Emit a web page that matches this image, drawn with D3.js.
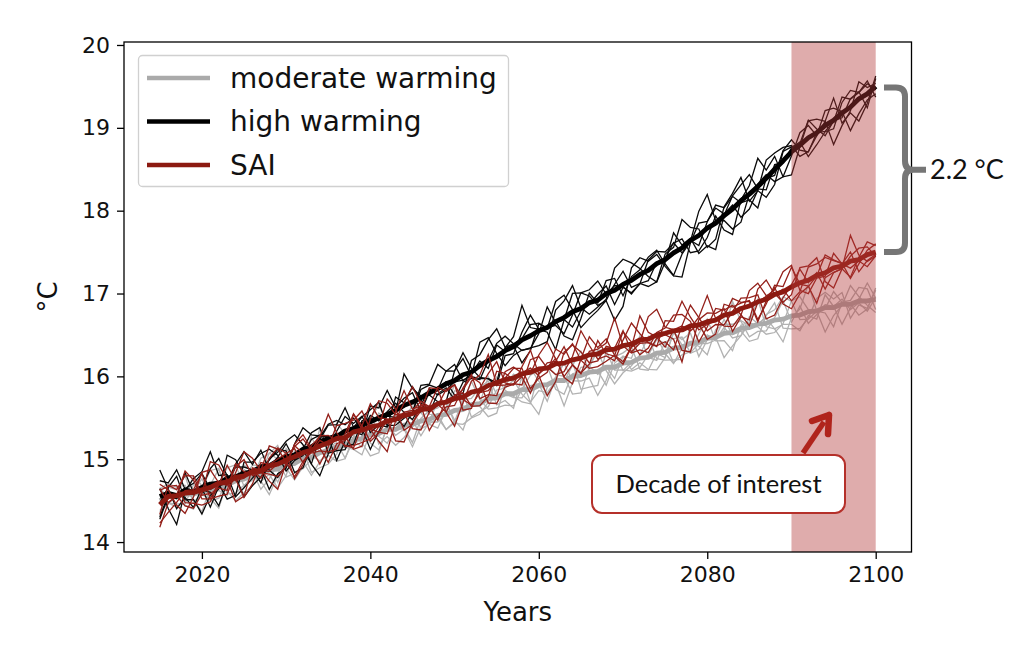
<!DOCTYPE html>
<html><head><meta charset="utf-8">
<script src="https://cdn.jsdelivr.net/npm/d3@7"></script>
<style>
html,body{margin:0;padding:0;background:#fff;}
svg{display:block;}
</style></head>
<body>
<svg id="chart" width="1024" height="647"></svg>
<script>
// ---------- DATA ----------
const years = d3.range(2015, 2101); // 2015..2100
const seriesNames = ["moderate warming", "high warming", "SAI"];
const xTicks = [2020, 2040, 2060, 2080, 2100];
const yTicks = [14, 15, 16, 17, 18, 19, 20];
const decade = [2090, 2100];
const bracketLabel = "2.2 °C";
const boxLabel = "Decade of interest";

// ensemble means (°C), one value per year
const highMean = [14.55,14.59,14.56,14.63,14.60, 14.66,14.70,14.71,14.77,14.79, 14.83,14.85,14.91,14.92,14.98,
 15.03,15.05,15.12,15.15,15.21, 15.25,15.27,15.34,15.37,15.42, 15.45,15.50,15.54,15.59,15.65,
 15.69,15.74,15.80,15.85,15.91, 15.95,16.02,16.05,16.13,16.19, 16.24,16.31,16.36,16.44,16.49,
 16.55,16.59,16.66,16.71,16.78, 16.82,16.89,16.92,17.00,17.04, 17.11,17.16,17.23,17.28,17.36,
 17.41,17.49,17.55,17.64,17.70, 17.79,17.85,17.94,18.02,18.12, 18.20,18.29,18.39,18.50,18.60,
 18.71,18.79,18.88,18.94,19.03, 19.09,19.18,19.25,19.35,19.41, 19.50];
const saiMean = [14.45,14.55,14.56,14.59,14.60, 14.63,14.66,14.71,14.72,14.78, 14.80,14.85,14.86,14.92,14.94,
 14.99,15.03,15.08,15.11,15.16, 15.20,15.25,15.26,15.33,15.35, 15.39,15.41,15.46,15.48,15.53,
 15.55,15.60,15.61,15.67,15.69, 15.73,15.75,15.81,15.83,15.89, 15.92,15.96,15.98,16.03,16.05,
 16.09,16.10,16.15,16.16,16.20, 16.22,16.26,16.27,16.32,16.33, 16.37,16.39,16.44,16.45,16.50,
 16.52,16.55,16.56,16.61,16.62, 16.66,16.68,16.74,16.76,16.82, 16.85,16.90,16.93,16.99,17.02,
 17.08,17.13,17.16,17.22,17.25, 17.31,17.33,17.39,17.41,17.47, 17.50];
const moderateMean = [14.50,14.55,14.55,14.58,14.58, 14.61,14.63,14.67,14.69,14.74, 14.76,14.80,14.81,14.87,14.88,
 14.93,14.95,15.01,15.02,15.08, 15.10,15.15,15.17,15.23,15.25, 15.30,15.31,15.36,15.36,15.41,
 15.42,15.46,15.48,15.53,15.54, 15.59,15.60,15.66,15.67,15.73, 15.74,15.79,15.79,15.84,15.84,
 15.89,15.90,15.95,15.95,16.00, 16.01,16.05,16.06,16.11,16.11, 16.16,16.17,16.22,16.23,16.28,
 16.29,16.34,16.35,16.40,16.41, 16.46,16.47,16.52,16.53,16.58, 16.59,16.63,16.64,16.68,16.69,
 16.73,16.74,16.78,16.79,16.83, 16.83,16.87,16.87,16.91,16.91, 16.93];

// slow ensemble-member anomalies, in units of 0.01 °C
const highSlow = [
 [10,18,25,12,-5,-12,-20,-8,6,15,28,20,8,-4,-16,-22,-10,2,14,9,-3,-15,-25,-18,-6,10,22,30,16,4,-8,-20,-12,3,18,26,12,-2,-14,-24,-30,-16,-4,8,20,14,2,-10,-18,-6,10,24,32,18,6,-8,-22,-28,-12,4,16,8,-6,-18,-10,6,20,28,14,-2,-14,-26,-16,-4,12,22,10,-6,-20,-12,2,18,26,10,-8,-4],
 [-18,-8,6,20,12,-4,-16,-24,-10,8,18,6,-8,-20,-30,-14,4,16,24,12,0,-12,-22,-8,10,20,14,2,-14,-26,-18,-2,12,24,30,14,-4,-16,-8,6,18,8,-10,-24,-16,-2,14,26,18,4,-12,-22,-14,4,16,6,-10,-20,-28,-12,6,20,28,12,-6,-18,-8,8,22,14,-2,-16,-26,-12,6,18,26,12,-4,-18,-10,8,20,6,-12,2],
 [4,-10,-20,-6,10,22,30,16,2,-12,-22,-12,4,18,10,-6,-18,-26,-10,8,20,28,14,-4,-16,-24,-12,6,16,24,8,-8,-20,-14,2,16,8,-10,-22,-30,-16,2,14,26,18,4,-8,-20,-10,10,24,16,0,-14,-26,-18,-4,12,22,8,-6,-20,-28,-14,2,14,24,12,-4,-14,-24,-10,8,20,30,16,-2,-14,-8,6,18,8,-10,-22,-14,-6],
 [-25,-14,-4,8,18,10,-2,-14,-22,-8,6,16,26,14,2,-10,-20,-12,4,18,12,-2,-16,-26,-12,4,14,6,-8,-18,-26,-14,2,16,10,-4,-18,-8,8,22,30,16,2,-12,-22,-14,0,12,24,16,2,-10,-4,10,22,30,14,-4,-18,-10,4,16,8,-6,-20,-30,-14,2,16,26,10,-4,-16,-8,6,18,8,-12,-24,-14,0,14,26,16,2,-8],
 [20,8,-6,-18,-10,4,16,24,10,-4,-16,-24,-12,2,14,6,-8,-20,-10,6,18,30,16,2,-12,-6,10,20,8,-10,-22,-30,-16,0,12,4,-10,-4,12,24,14,-2,-16,-26,-12,4,18,10,-6,-18,-8,8,20,12,-4,-16,-24,-10,6,18,26,12,-2,-14,-22,-10,4,-6,-18,-8,10,24,14,-2,-14,-6,8,20,10,-6,-18,-10,6,16,4,-2],
 [-8,4,14,2,-12,-24,-14,2,18,28,14,0,-12,-4,12,22,8,-8,-18,-28,-14,4,18,10,-4,-16,-8,10,20,6,-6,-16,-24,-10,6,-4,-16,-26,-12,4,16,26,12,-4,4,18,8,-6,-20,-28,-14,0,14,24,12,-4,-10,4,18,10,-8,-20,-10,6,20,30,16,-2,-14,-24,-12,4,-6,-18,-8,10,22,12,-4,8,20,6,-10,-22,-12,6]
];
const saiSlow = [
 [14,4,-8,-18,-10,6,18,24,10,-6,-18,-24,-10,4,16,8,-6,-16,-8,8,20,12,-4,-16,-22,-8,6,18,10,-6,-16,-8,8,20,26,12,-2,-14,-20,-6,8,18,10,-6,-18,-10,6,16,22,8,-6,-18,-26,-12,4,14,6,-8,-16,-4,10,22,14,-2,-14,-8,6,18,8,-8,-20,-12,4,16,24,12,-4,-16,-8,6,16,6,-8,-18,-6,4],
 [-20,-10,4,16,8,-6,-16,-6,10,22,14,-2,-14,-22,-8,8,20,12,-4,-16,-8,6,18,26,12,-4,-16,-24,-10,6,16,8,-6,-16,-6,10,20,12,-2,-14,-24,-12,4,14,22,10,-4,-16,-8,8,18,10,-4,-16,-6,10,22,14,-2,-14,-22,-10,6,16,8,-8,-18,-8,8,20,12,-4,-16,-24,-12,4,14,6,-8,-16,-4,10,20,10,-4,-12],
 [6,18,10,-4,-16,-24,-10,6,16,8,-6,-18,-10,6,20,26,12,-4,-14,-6,8,-4,-16,-8,8,20,12,-4,-18,-26,-12,4,16,10,-6,-18,-8,8,18,26,12,-2,-14,-6,8,20,12,-4,-16,-24,-10,6,18,10,-4,-14,-6,8,20,28,14,-2,-16,-24,-10,4,14,6,-8,-18,-6,8,20,12,-4,-16,-8,6,16,26,12,-4,-18,-8,6,14],
 [-10,6,16,24,12,-2,-14,-8,6,18,8,-6,-18,-26,-12,4,14,8,-6,-16,-24,-10,4,16,8,-6,-14,-4,12,22,14,0,-14,-22,-10,4,16,6,-8,-18,-6,8,20,12,-4,-18,-26,-12,4,16,8,-6,-16,-8,6,18,10,-4,-16,-8,8,20,26,12,-2,-14,-4,12,22,10,-4,-16,-8,6,-6,-18,-26,-10,4,12,22,10,-4,-16,-6,8],
 [18,8,-4,-14,-6,10,20,12,-4,-16,-24,-12,2,14,22,10,-6,-18,-10,4,14,6,-8,-18,-8,8,18,26,12,-4,-14,-22,-10,6,16,8,-6,-16,-6,10,22,14,0,-12,-22,-8,8,18,10,-6,-16,-8,6,16,24,10,-6,-18,-10,4,-6,-16,-24,-10,6,16,8,-6,-14,-4,12,22,14,-2,-12,-4,10,20,12,-6,-18,-10,6,16,8,-4],
 [-14,-24,-12,4,14,6,-8,-18,-8,8,20,12,-2,-12,-4,12,22,14,0,-14,-22,-12,4,14,6,-8,-16,-6,10,20,28,14,-2,-12,-4,10,-2,-14,-24,-10,6,16,8,-6,4,16,24,12,-4,-14,-22,-10,6,-4,-16,-8,8,20,12,-2,-14,-6,10,-2,-14,-22,-8,8,18,10,-6,-16,-4,10,20,12,-4,-14,-24,-10,4,-8,-18,-6,10,20]
];
const moderateSlow = [
 [8,-6,-16,-8,6,16,22,10,-4,-14,-20,-8,6,14,6,-8,-18,-6,8,18,10,-4,-14,-22,-10,4,14,20,8,-6,-16,-8,6,16,8,-6,-18,-24,-10,4,14,6,-8,-16,-6,8,18,10,-4,-14,-6,8,16,22,10,-4,-14,-6,8,16,8,-6,-16,-22,-8,6,14,4,-8,-16,-6,8,18,10,-4,-14,-20,-8,6,14,20,8,-6,-14,-4,6],
 [-14,-4,8,16,6,-6,-16,-22,-10,4,14,22,10,-4,-14,-6,8,16,6,-8,-18,-24,-12,2,12,6,-8,-16,-6,8,18,10,-4,-14,-20,-8,6,16,22,10,-4,-14,-6,8,18,8,-6,-16,-22,-10,4,14,6,-8,-16,-6,8,18,10,-4,12,20,8,-6,-16,-8,6,16,24,12,-2,-14,-6,8,16,6,-6,-18,-8,6,-6,-16,-8,6,14,4],
 [4,14,20,8,-6,-16,-8,6,14,22,10,-4,-16,-24,-10,4,12,4,-8,-18,-8,6,16,8,-6,-16,-22,-8,6,16,6,-8,-18,-6,8,18,10,-4,-14,-6,8,16,6,-8,-18,-24,-10,4,14,6,-8,-16,-24,-10,6,14,6,-8,-16,-6,8,18,10,-4,-14,-6,8,16,6,-8,-18,-8,6,16,24,10,-4,-14,-6,8,16,6,-8,-18,-8,4],
 [-6,-16,-8,6,16,8,-6,-14,-4,8,18,10,-4,-14,-22,-10,4,14,22,10,-4,-14,-6,8,16,6,-6,-16,-24,-10,4,12,4,-8,-16,-6,8,18,10,-6,-16,-24,-12,2,12,20,10,-4,-12,-4,10,20,12,-2,-14,-22,-10,4,14,6,-6,-16,-8,8,18,10,-4,-16,-24,-10,4,14,6,-8,-18,-8,6,14,4,-8,-16,-6,8,18,10,-4],
 [12,4,-8,-18,-10,4,14,6,-6,-16,-8,6,16,24,12,-2,-12,-4,8,16,6,-8,-18,-8,6,14,22,10,-4,-14,-24,-12,2,12,4,-8,-16,-6,10,20,12,-2,-14,-6,8,-4,-16,-8,6,16,22,10,-4,-14,-6,8,-4,-16,-24,-10,4,14,6,-8,-16,-6,8,20,12,-4,10,-4,-16,-8,6,18,10,-4,-14,-22,-10,6,16,8,-6,-12],
 [-10,-20,-8,6,14,4,-8,-16,-4,10,20,8,-6,-16,-8,6,16,8,-6,-18,-26,-12,4,14,6,-6,-16,-6,8,18,10,-4,-14,-4,10,20,12,-2,-12,-20,-8,6,16,8,-6,-16,-6,8,20,12,-4,-14,-6,8,-2,-14,-22,-8,6,14,6,-8,-18,-8,6,16,8,-6,-16,-6,10,20,8,-6,-14,-4,-14,-22,-8,6,14,4,-8,-16,-4,8]
];
// fast year-to-year anomalies, in units of 0.005 °C
const highFast = [
 [12,-8,20,-15,5,22,-10,3,-25,14,8,-18,27,-5,-12,16,2,-20,9,24,-14,6,-3,18,-22,11,-7,25,-9,4,15,-26,8,-2,19,-13,21,-6,-17,10,3,28,-11,-4,13,-21,7,17,-8,-1,23,-16,5,-24,12,9,-14,20,-3,6,-19,15,-7,26,-10,1,18,-23,8,-5,11,-12,22,-17,4,14,-2,-20,16,7,-9,19,-15,3,25,-6],
 [-20,15,-5,9,-28,3,18,-12,7,21,-9,-3,14,-19,25,-7,10,4,-16,-2,19,-24,12,6,-11,-18,23,-4,8,16,-13,2,-21,17,-6,27,-15,9,11,-25,5,-10,20,-14,-1,24,-19,3,13,-8,-17,7,26,-11,-5,18,-22,4,15,-9,12,-20,6,-3,22,-13,-8,19,-1,24,-16,10,-4,-23,14,5,-18,21,-7,8,17,-11,-2,13,-25,9],
 [5,-14,-22,16,10,-6,24,-19,2,-11,21,13,-8,-24,4,19,-15,-9,26,-3,8,-17,20,-1,14,-26,5,12,-20,23,-7,-12,17,3,-23,8,15,-10,-4,22,-18,11,-6,25,-13,-2,16,-21,9,19,-5,-15,10,24,-8,-19,13,2,-24,17,6,-9,-21,12,20,-14,3,-6,23,-16,9,-1,18,-11,-24,12,7,-3,-15,21,-8,4,-19,16,-2,-12],
 [-11,23,8,-6,-18,14,-3,20,-9,-15,27,-4,-17,10,6,-22,18,-7,13,-12,-5,21,-14,2,24,-8,-19,11,15,-20,4,16,-3,-24,9,-11,-18,25,-6,12,20,-16,1,-8,18,-5,-23,10,-13,26,3,-7,14,-20,22,-1,-11,8,19,-14,-4,23,-16,7,-9,15,-21,11,5,-18,24,-10,-6,17,-13,2,22,-19,-5,10,-22,14,6,-9,12,-16],
 [18,-3,-12,25,-20,-8,11,6,-17,22,-13,19,2,-10,-23,12,-5,21,-18,7,14,-11,-25,9,3,20,-14,-6,17,-2,-22,10,24,-9,-15,5,-1,-20,16,13,-8,-24,9,21,-4,-12,25,-16,2,-6,15,-19,-3,8,-14,23,-7,-17,11,4,-23,6,19,-12,1,-5,24,-9,-20,14,-2,8,-18,25,-7,-15,10,3,-11,19,-24,6,-3,17,-8,5],
 [-6,9,26,-21,3,-16,7,-24,17,-1,-19,10,-12,23,-7,-14,24,11,-3,-18,6,15,-9,-20,19,-1,12,-23,8,-11,25,-5,-17,14,2,-22,6,18,-26,-3,13,-9,-19,5,22,-15,-6,20,-10,-17,9,24,-12,-3,17,-21,4,-11,-6,23,16,-8,-2,-25,13,19,-12,6,-15,-8,21,-14,11,-4,-19,-1,16,8,-23,-9,12,-20,24,-2,-14,7]
];
const saiFast = [
 [9,-21,14,3,-10,-25,18,7,-4,20,-16,1,22,-13,-8,15,-24,10,5,-2,26,-12,-18,8,13,-6,-21,19,2,-15,11,23,-9,-4,-20,16,6,-13,24,-7,-2,-18,12,27,-11,4,-16,9,-22,18,1,-10,20,-6,-25,13,8,-15,3,21,-12,-4,16,10,-22,-7,14,-19,25,2,-9,18,-5,-13,7,22,-17,-1,11,-24,15,3,-10,20,-6,-13],
 [-15,6,-9,19,22,-13,-4,25,-18,-6,11,-23,5,16,-2,-14,8,26,-10,-20,3,17,-6,-15,21,9,-12,-24,14,5,-19,-1,18,-11,24,-8,-14,3,12,-21,7,20,-15,-9,2,-26,17,11,-4,-13,24,-11,-6,15,-18,1,22,-8,-12,9,19,-24,5,13,-7,-16,23,-3,10,-14,-5,21,-20,6,16,-9,-2,-18,24,-11,8,-16,13,-22,3,18],
 [22,-10,3,-17,14,8,-23,-5,19,-12,6,24,-16,-1,11,-20,13,-9,2,17,-25,4,9,-14,-7,23,-11,15,-19,-3,8,-16,20,12,-6,-24,10,1,-9,16,-21,5,23,-13,7,-4,-18,26,-2,-15,12,18,-22,4,-9,-3,20,-16,7,13,-18,9,-11,-20,24,3,-14,8,-6,17,-23,11,2,-16,21,-8,-12,19,-3,-19,5,25,-15,-7,10,-4],
 [-4,17,-19,-8,24,-12,5,15,-22,9,-6,-13,20,7,-25,2,16,-11,-17,12,23,-8,-3,20,-16,14,6,-21,-9,25,-12,4,-23,10,15,-18,-2,21,-14,7,-10,17,-5,-20,11,26,-9,-14,19,-1,-7,-21,14,22,-12,8,-24,5,16,-5,10,-15,24,-8,-17,11,3,-22,14,-4,18,-20,7,12,-11,-23,19,4,-8,15,-13,-5,21,-10,9,-18],
 [13,2,-17,-23,9,19,-6,-12,24,-15,-1,16,-21,12,4,-8,-19,22,-5,8,-13,-20,15,3,-24,10,18,-7,-16,21,-3,-10,13,-20,5,24,-12,-17,7,2,16,-22,-8,19,-14,10,3,-25,20,-6,-12,11,-2,-18,25,-13,6,17,-20,-9,4,14,-23,9,-2,21,-15,-10,18,-7,12,-3,-24,14,5,-17,10,-6,20,-13,-1,23,-9,-17,14,2],
 [-17,11,6,-4,-13,24,-20,16,-3,7,18,-9,-14,3,21,-16,-2,12,-22,15,-6,9,-19,24,-3,-12,8,17,-24,-1,14,-20,6,19,-10,-5,22,-16,1,-13,25,-3,-11,14,-19,8,20,-7,-24,11,2,-16,19,-4,13,-21,-8,23,-15,6,-10,17,-4,-13,22,-9,-20,15,1,-6,24,-15,-8,10,-21,17,-2,13,-18,4,-7,19,-12,5,22,-20]
];
const moderateFast = [
 [8,-15,11,-4,19,-20,3,14,-9,-17,21,-6,-12,16,2,-22,9,5,-14,18,-3,-19,12,23,-8,-1,15,-24,6,10,-16,20,-5,-11,17,-21,4,13,-7,-18,22,-2,9,-14,-20,15,6,-9,19,-12,-23,3,17,-6,10,-15,21,-1,-10,14,-5,-19,22,8,-13,2,-22,16,-4,11,19,-16,-7,24,-11,5,-3,-20,13,9,-14,16,-21,4,-8,12],
 [-12,20,-3,16,-22,7,12,-18,24,2,-9,-16,5,21,-13,10,-24,14,-1,-7,17,-11,-20,6,22,-15,3,-8,19,-23,11,-2,-17,25,4,-12,15,-20,-6,21,-9,13,-24,2,18,-5,-13,22,-16,8,19,-7,-21,12,-3,24,-14,6,-19,-2,15,-11,1,-23,18,9,-6,-16,20,-10,-22,13,4,-8,16,-19,23,-12,2,-5,20,-13,8,-22,17,-3],
 [16,-7,-21,9,4,-13,22,-19,10,-2,-24,13,18,-9,-5,23,-14,2,-20,11,6,21,-16,-4,14,-18,-9,20,-12,3,-6,-22,16,-1,-14,10,22,-25,8,-9,3,-17,20,-11,7,-21,12,-3,15,-20,10,24,-12,-16,5,-8,18,-22,2,19,-15,7,-9,21,-18,14,-2,11,-24,6,-1,-17,20,-5,9,23,-14,-10,6,-19,12,-4,17,-13,-2,21],
 [-20,4,14,-12,-16,18,-5,9,-21,24,1,-18,-7,20,-11,-14,19,-3,12,-23,9,-8,16,-17,-2,25,-20,8,13,-6,-18,14,-10,21,-4,-19,3,17,-11,-15,8,22,-6,-19,13,-2,24,-16,-8,17,-3,-14,21,-9,-20,16,4,-12,23,-18,7,10,-21,15,-6,-13,20,-17,9,-1,14,-24,11,-3,-16,20,-8,18,-14,3,-9,21,-6,-18,11,-15],
 [3,-24,17,12,-8,-2,-16,21,-13,5,15,-20,9,-6,24,-12,-19,6,20,-15,-11,2,-6,17,-21,12,19,-14,-3,22,-10,8,-23,13,18,-9,-14,5,-20,11,-16,6,18,-24,-4,12,-10,19,-13,-3,22,-11,7,-20,14,-4,-17,9,20,-13,-7,18,-14,5,11,-22,15,-8,-11,23,-18,4,16,-12,-20,9,13,-7,22,-15,6,-11,14,-20,3,-6],
 [-8,14,-13,-19,23,10,-11,-6,17,-20,7,-3,-22,13,19,-5,-10,21,-17,-4,12,-18,8,-22,16,-7,-14,10,21,-9,18,-13,2,-20,-8,23,-12,-3,16,-5,-21,10,15,-7,-16,20,-9,-19,6,14,-18,-2,-24,19,-11,7,15,-18,-5,12,24,-13,10,-16,-3,20,-12,4,-19,16,-10,22,-14,-7,18,-4,-21,15,-9,19,-20,8,4,13,-15,-10]
];

// ---------- LAYOUT ----------
const svg = d3.select("#chart");
const W = 1024, H = 647;
const m = {left: 124, right: 1024 - 911.5, top: 42, bottom: 647 - 552};
const x = d3.scaleLinear().domain([2010.75, 2104.25]).range([m.left, W - m.right]);
const y = d3.scaleLinear().domain([13.88, 20.036]).range([H - m.bottom, m.top]);

const colors = {"moderate warming": "#aaaaaa", "high warming": "#000000", "SAI": "#8c1a11"};
const thinColors = {"moderate warming": "#b2b2b2", "high warming": "#0a0a0a", "SAI": "#94201a"};

const scenarios = [
  {name: "moderate warming", mean: moderateMean, slow: moderateSlow, fast: moderateFast},
  {name: "high warming", mean: highMean, slow: highSlow, fast: highFast},
  {name: "SAI", mean: saiMean, slow: saiSlow, fast: saiFast}
];

const line = d3.line()
  .defined(d => d != null && isFinite(d[1]))
  .x(d => x(d[0])).y(d => y(d[1]));

const plot = svg.append("g");
plot.append("defs").append("clipPath").attr("id", "clip")
  .append("rect").attr("x", m.left).attr("y", m.top)
  .attr("width", W - m.left - m.right).attr("height", H - m.top - m.bottom);

const lines = plot.append("g").attr("clip-path", "url(#clip)");
scenarios.forEach(s => {
  // anomaly of each member (°C) relative to the ensemble mean
  const anoms = s.slow.map((sl, k) => years.map((yr, i) => {
    const a = sl[i], b = s.fast[k][i];
    return (a == null || b == null) ? NaN : a * 0.01 + b * 0.005;
  }));
  const anomMean = years.map((yr, i) => d3.mean(anoms, an => isFinite(an[i]) ? an[i] : undefined) || 0);
  anoms.forEach(an => {
    const ms = years.map((yr, i) => [yr, s.mean[i] + an[i] - anomMean[i]]);
    lines.append("path").attr("d", line(ms))
      .attr("fill", "none").attr("stroke", thinColors[s.name])
      .attr("stroke-width", 1.3).attr("stroke-linejoin", "miter");
  });
  lines.append("path").attr("d", line(years.map((yr, i) => [yr, s.mean[i]])))
    .attr("fill", "none").attr("stroke", colors[s.name])
    .attr("stroke-width", 4.8).attr("stroke-linejoin", "round");
});

// shaded decade (drawn above the lines)
plot.append("rect")
  .attr("x", x(decade[0])).attr("y", m.top)
  .attr("width", x(decade[1]) - x(decade[0])).attr("height", H - m.top - m.bottom)
  .attr("fill", "#b23a3a").attr("fill-opacity", 0.42);

// frame
plot.append("rect").attr("x", m.left).attr("y", m.top)
  .attr("width", W - m.left - m.right).attr("height", H - m.top - m.bottom)
  .attr("fill", "none").attr("stroke", "#000").attr("stroke-width", 1.3);

// axes
const fontFam = "'DejaVu Sans', sans-serif";
const xAxis = svg.append("g").attr("transform", `translate(0,${H - m.bottom})`)
  .call(d3.axisBottom(x).tickValues(xTicks).tickFormat(d3.format("d")).tickSize(7).tickPadding(7));
const yAxis = svg.append("g").attr("transform", `translate(${m.left},0)`)
  .call(d3.axisLeft(y).tickValues(yTicks).tickFormat(d3.format("d")).tickSize(7).tickPadding(7));
[xAxis, yAxis].forEach(a => {
  a.select(".domain").remove();
  a.selectAll(".tick line").attr("stroke", "#000").attr("stroke-width", 1.3);
  a.selectAll(".tick text").attr("font-family", fontFam).attr("font-size", 22).attr("fill", "#111");
});

svg.append("text").attr("x", (m.left + W - m.right) / 2).attr("y", 621)
  .attr("text-anchor", "middle").attr("font-family", fontFam).attr("font-size", 26)
  .attr("fill", "#111").text("Years");
svg.append("text").attr("transform", "translate(57,297) rotate(-90)")
  .attr("text-anchor", "middle").attr("font-family", fontFam).attr("font-size", 26)
  .attr("fill", "#111").text("°C");

// legend
const lg = svg.append("g");
lg.append("rect").attr("x", 138.5).attr("y", 55.5).attr("width", 370).attr("height", 131)
  .attr("rx", 4).attr("fill", "#fff").attr("fill-opacity", 0.85)
  .attr("stroke", "#d0d0d0").attr("stroke-width", 1.3);
seriesNames.forEach((n, i) => {
  const cy = 78 + i * 43.5;
  lg.append("line").attr("x1", 147).attr("x2", 210).attr("y1", cy).attr("y2", cy)
    .attr("stroke", colors[n]).attr("stroke-width", 4.5);
  lg.append("text").attr("x", 230).attr("y", cy).attr("dy", "0.35em")
    .attr("font-family", fontFam).attr("font-size", 28).attr("fill", "#111").text(n);
});

// bracket for difference
const lastHigh = highMean[highMean.length - 1];
const lastSai = saiMean[saiMean.length - 1];
const yTop = y(lastHigh) + 1, yBot = y(lastSai);
const yMid = (yTop + yBot) / 2;
const bx = 905, bl = 884;
svg.append("path")
  .attr("d", `M${bl},${yTop} L${bx - 9},${yTop} Q${bx},${yTop} ${bx},${yTop + 9} L${bx},${yMid - 9} Q${bx},${yMid} ${bx + 8},${yMid} L${bx + 21},${yMid} M${bx + 8},${yMid} Q${bx},${yMid} ${bx},${yMid + 9} L${bx},${yBot - 9} Q${bx},${yBot} ${bx - 9},${yBot} L${bl},${yBot}`)
  .attr("fill", "none").attr("stroke", "#767676").attr("stroke-width", 6);
svg.append("text").attr("x", 930).attr("y", yMid).attr("dy", "0.36em")
  .attr("font-family", "Lato, 'Open Sans', sans-serif").attr("font-size", 27)
  .attr("fill", "#111").text(bracketLabel);

// annotation box + arrow
const ann = svg.append("g");
ann.append("rect").attr("x", 592).attr("y", 455).attr("width", 253).attr("height", 58)
  .attr("rx", 10).attr("fill", "#fff").attr("stroke", "#b5302a").attr("stroke-width", 2);
ann.append("text").attr("x", 718.5).attr("y", 484).attr("dy", "0.35em")
  .attr("text-anchor", "middle").attr("font-family", "Lato, 'Open Sans', sans-serif")
  .attr("font-size", 25.5).attr("fill", "#111").text(boxLabel);
const ax0 = 803, ay0 = 453, ax1 = 829, ay1 = 415;
ann.append("line").attr("x1", ax0).attr("y1", ay0).attr("x2", ax1 - 5).attr("y2", ay1 + 7)
  .attr("stroke", "#b0241c").attr("stroke-width", 5.5);
ann.append("path")
  .attr("d", `M${ax1},${ay1} L${ax1 - 1},${ay1 + 19} M${ax1},${ay1} L${ax1 - 17},${ay1 + 6}`)
  .attr("stroke", "#b0241c").attr("stroke-width", 6.5).attr("stroke-linecap", "round")
  .attr("stroke-linejoin", "round").attr("fill", "none");
</script>
</body></html>
